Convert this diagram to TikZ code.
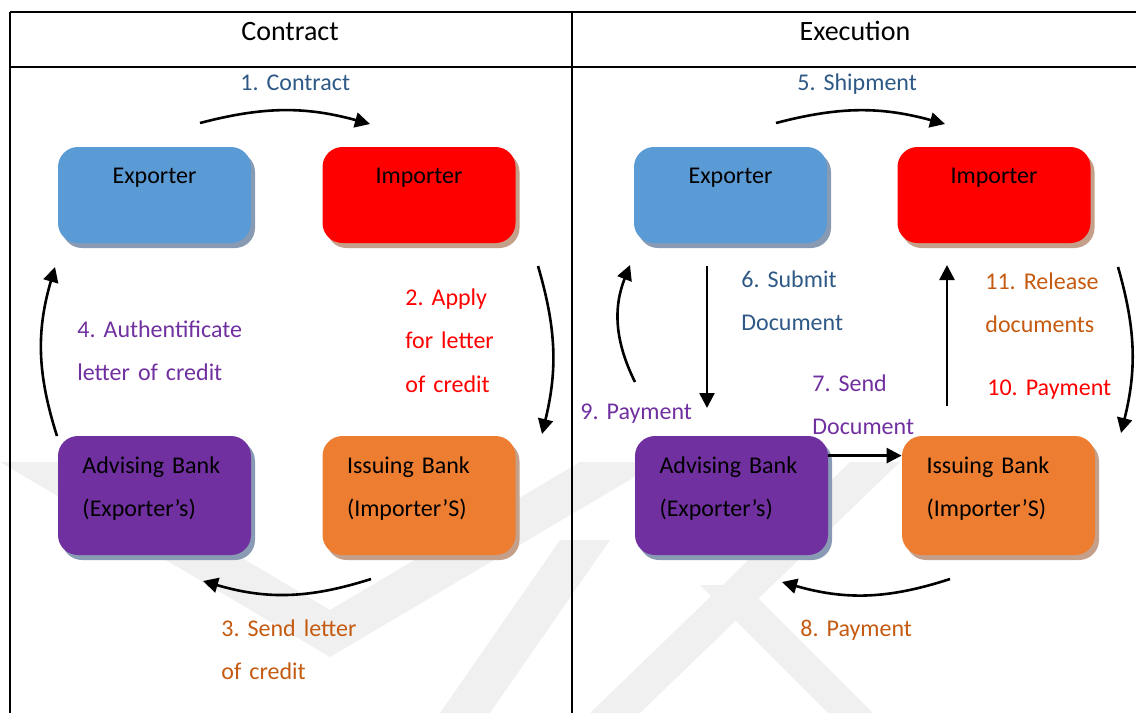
\documentclass[tikz,border=0pt]{standalone}
\usepackage{fontspec}
\setmainfont{Carlito}
\usetikzlibrary{arrows.meta,shadows}
\frenchspacing

\definecolor{boxblue}{RGB}{91,155,213}
\definecolor{boxred}{RGB}{255,0,0}
\definecolor{boxpurple}{RGB}{112,48,160}
\definecolor{boxorange}{RGB}{237,125,49}
\definecolor{shadecool}{RGB}{136,154,180}
\definecolor{shadewarm}{RGB}{196,160,138}
\definecolor{txtblue}{RGB}{46,89,134}
\definecolor{txtred}{RGB}{255,0,0}
\definecolor{txtorange}{RGB}{197,90,17}
\definecolor{txtpurple}{RGB}{112,48,160}

\begin{document}
\begin{tikzpicture}[x=0.5pt, y=-0.5pt,
  party/.style={rounded corners=10pt, minimum width=96.5pt, inner xsep=12.25pt,
    inner ysep=0pt, text width=72pt, font=\fontsize{12}{21.5}\selectfont},
  trader/.style={party, align=center, text height=18pt, text depth=30pt},
  bank/.style={party, align=left, text height=18.5pt, text depth=41pt},
  coolshade/.style={drop shadow={shadow xshift=2pt, shadow yshift=-2.5pt, fill=shadecool, opacity=1}},
  warmshade/.style={drop shadow={shadow xshift=2pt, shadow yshift=-2.5pt, fill=shadewarm, opacity=1}},
  flow/.style={-{Triangle[length=7.5pt,width=7.5pt]}, line width=1.3pt},
  note/.style={anchor=base west, align=left, text width=110pt, inner sep=0pt,
    font=\fontsize{12}{21.75}\selectfont},
  wmark/.style={fill=black!6, draw=none}
]
\useasboundingbox (0,0) rectangle (1136,713);

% Logo de fondo
\begin{scope}
  \clip (0,0) rectangle (1136,713);
  \fill[wmark] (0,462) -- (80,462) -- (330,610) -- (580,462) -- (660,462) -- (330,657) -- cycle;
  \fill[wmark] (560,540) -- (610,540) -- (490,713) -- (440,713) -- cycle;
  \fill[wmark] (850,462) -- (900,462) -- (640,713) -- (590,713) -- cycle;
  \fill[wmark] (700,585) -- (745,585) -- (873,713) -- (828,713) -- cycle;
\end{scope}

% Tabla
\draw[line width=1pt] (10,12) -- (1136,12);
\draw[line width=1pt] (10,67) -- (1136,67);
\draw[line width=1pt] (10,12) -- (10,713);
\draw[line width=1pt] (572,12) -- (572,713);
\node[anchor=base, font=\fontsize{14}{17}\selectfont] (hdrL) at (290,40) {Contract};
\node[anchor=base, font=\fontsize{14}{17}\selectfont] (hdrR) at (855,40) {Execution};

% Partes - contrato
\node[trader, fill=boxblue, coolshade] (expL) at (154.5,195) {Exporter};
\node[trader, fill=boxred, warmshade] (impL) at (419,195) {Importer};
\node[bank, fill=boxpurple, coolshade] (advL) at (154.5,495.5) {Advising Bank\\(Exporter’s)};
\node[bank, fill=boxorange, warmshade] (issL) at (419,495.5) {Issuing Bank\\(Importer’S)};

% Partes - ejecucion
\node[trader, fill=boxblue, coolshade] (expR) at (730.5,195) {Exporter};
\node[trader, fill=boxred, warmshade] (impR) at (994,195) {Importer};
\node[bank, fill=boxpurple, coolshade] (advR) at (731.5,495.5) {Advising Bank\\(Exporter’s)};
\node[bank, fill=boxorange, warmshade] (issR) at (998.5,495.5) {Issuing Bank\\(Importer’S)};

% Pasos
\node[note, text=txtblue] (n1) at (240,90) {1. Contract};
\node[note, text=txtred] (n2) at (405,305) {2. Apply\\for letter\\of credit};
\node[note, text=txtorange] (n3) at (221,636) {3. Send letter\\of credit};
\node[note, text=txtpurple] (n4) at (77,337) {4. Authentificate\\letter of credit};
\node[note, text=txtblue] (n5) at (797,90) {5. Shipment};
\node[note, text=txtblue] (n6) at (741,287) {6. Submit\\Document};
\node[note, text=txtpurple] (n7) at (812,391) {7. Send\\Document};
\node[note, text=txtorange] (n8) at (800,636) {8. Payment};
\node[note, text=txtpurple] (n9) at (580,419) {9. Payment};
\node[note, text=txtred] (n10) at (987,395) {10. Payment};
\node[note, text=txtorange] (n11) at (985,289) {11. Release\\documents};

% Extremos de las flechas
\coordinate (c1a) at (200,123);  \coordinate (c1b) at (370,124);
\coordinate (c2a) at (538,266);  \coordinate (c2b) at (542,434);
\coordinate (c3a) at (371,579);  \coordinate (c3b) at (203,581);
\coordinate (c4a) at (57,436);   \coordinate (c4b) at (55,267);
\coordinate (c5a) at (776,123);  \coordinate (c5b) at (945,124);
\coordinate (c6a) at (707,266);  \coordinate (c6b) at (707,408);
\coordinate (c8a) at (950,579);  \coordinate (c8b) at (782,582);
\coordinate (c9a) at (635,382);  \coordinate (c9b) at (630,265);
\coordinate (c10a) at (1118,267); \coordinate (c10b) at (1121,433);
\coordinate (c11a) at (947,406); \coordinate (c11b) at (947,265);

% Flechas
\draw[flow] (c1a) to[bend left=15] (c1b);
\draw[flow] (c2a) to[bend left=15] (c2b);
\draw[flow] (c3a) to[bend left=17] (c3b);
\draw[flow] (c4a) to[bend left=17] (c4b);
\draw[flow] (c5a) to[bend left=15] (c5b);
\draw[flow] (c6a) -- (c6b);
\draw[flow] ([yshift=-10pt]advR.north east) -- ([yshift=-10pt]issR.north west);
\draw[flow] (c8a) to[bend left=17] (c8b);
\draw[flow] (c9a) to[bend left=24] (c9b);
\draw[flow] (c10a) to[bend left=15] (c10b);
\draw[flow] (c11a) -- (c11b);

\end{tikzpicture}
\end{document}
